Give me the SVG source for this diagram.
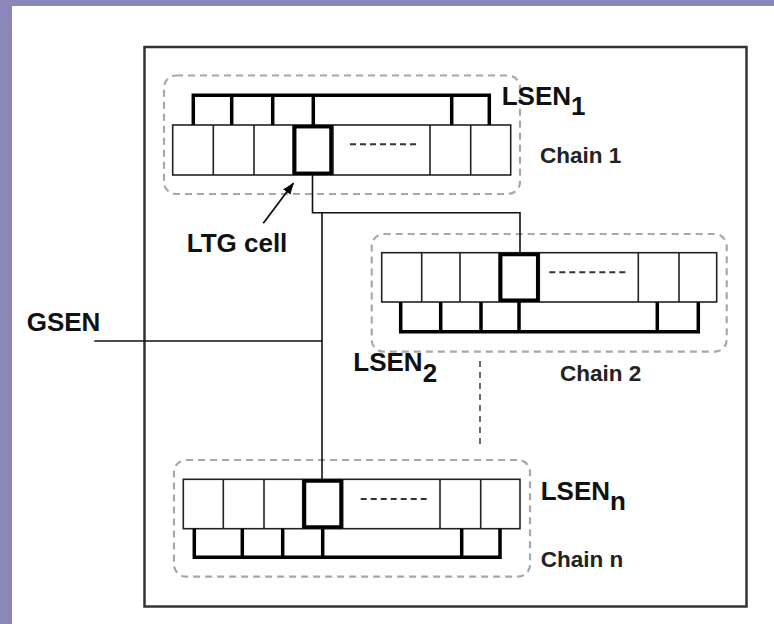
<svg xmlns="http://www.w3.org/2000/svg" width="774" height="624" viewBox="0 0 774 624">
  <style>
    .cell { fill: none; stroke: #222; stroke-width: 1.6; }
    .bold { fill: none; stroke: #000; stroke-width: 3.5; }
    .brk { fill: none; stroke: #000; stroke-width: 3.5; }
    .dots { stroke: #333; stroke-width: 2; stroke-dasharray: 6 4; }
    .group { fill: none; stroke: #a8a8a8; stroke-width: 2.2; stroke-dasharray: 7 5; }
    .wire { fill: none; stroke: #111; stroke-width: 1.6; }
    .lbl { font-family: "Liberation Sans", Arial, sans-serif; font-weight: bold; font-size: 26px; fill: #111; }
    .sub { font-size: 26px; }
    .chain { font-family: "Liberation Sans", Arial, sans-serif; font-weight: bold; font-size: 22.5px; fill: #222; }
  </style>
  <defs>
    <marker id="ah" markerWidth="12" markerHeight="9" refX="11" refY="4.5" orient="auto" markerUnits="userSpaceOnUse">
      <path d="M0,0 L12,4.5 L0,9 Z" fill="#000"/>
    </marker>
  </defs>

  <rect x="0" y="0" width="774" height="624" fill="#8a88b8"/>
  <rect x="12" y="6" width="762" height="618" fill="#ffffff"/>
  <rect id="frame" x="144.5" y="47" width="602" height="559.5" fill="none" stroke="#333" stroke-width="2.5"/>

  <g id="chain1">
    <rect class="group" x="164" y="75.5" width="356" height="118.5" rx="12"/>
    <rect class="cell" x="172.7" y="125" width="338" height="50"/>
    <path class="cell" d="M213.3,125V175M254,125V175M293,125V175M333,125V175M430,125V175M470.7,125V175"/>
    <rect class="bold" x="294.7" y="126.7" width="36.3" height="46.6"/>
    <line class="dots" x1="350" y1="144.3" x2="419" y2="144.3"/>
    <path class="brk" d="M193.3,125V95.3H489.3V125M231.7,95.3V125M272.7,95.3V125M313.3,95.3V125M451.7,95.3V125"/>
  </g>

  <g id="chain2">
    <rect class="group" x="371.7" y="234" width="355" height="117.7" rx="12"/>
    <rect class="cell" x="381.7" y="252.7" width="335" height="49.3"/>
    <path class="cell" d="M421.7,252.7V302M460,252.7V302M499,252.7V302M539.3,252.7V302M638.3,252.7V302M679,252.7V302"/>
    <rect class="bold" x="500.7" y="254.5" width="37" height="45.7"/>
    <line class="dots" x1="549.3" y1="272.3" x2="627.3" y2="272.3"/>
    <path class="brk" d="M400.7,302V331.7H698.3V302M440.7,302V331.7M481,302V331.7M519,302V331.7M657.3,302V331.7"/>
  </g>

  <g id="chainN">
    <rect class="group" x="174" y="460" width="356" height="116.7" rx="12"/>
    <rect class="cell" x="183.3" y="479.3" width="336.7" height="49.4"/>
    <path class="cell" d="M223.3,479.3V528.7M264,479.3V528.7M302.7,479.3V528.7M342.7,479.3V528.7M440,479.3V528.7M480.7,479.3V528.7"/>
    <rect class="bold" x="304.5" y="481" width="36.5" height="46"/>
    <line class="dots" x1="360.7" y1="499" x2="426.7" y2="499"/>
    <path class="brk" d="M194.3,528.7V557.3H500V528.7M242.3,528.7V557.3M282.7,528.7V557.3M322.7,528.7V557.3M461.7,528.7V557.3"/>
  </g>

  <g id="connectors">
    <path class="wire" d="M312.5,173V212.7H520V252.7"/>
    <path class="wire" d="M322,212.7V479.3"/>
    <path class="wire" d="M94.3,341H322"/>
    <path d="M480,361V447" fill="none" stroke="#444" stroke-width="1.6" stroke-dasharray="6 5"/>
    <line x1="263.3" y1="223.3" x2="293.3" y2="183.3" stroke="#111" stroke-width="1.8" marker-end="url(#ah)"/>
  </g>

  <g id="labels">
    <text class="lbl" x="26.7" y="330.7">GSEN</text>
    <text class="lbl" x="186.7" y="251.7">LTG cell</text>
    <text class="lbl" x="501.7" y="105">LSEN<tspan class="sub" dx="0" dy="10">1</tspan></text>
    <text class="chain" x="540" y="162.7">Chain 1</text>
    <text class="lbl" x="353.3" y="370.7">LSEN<tspan class="sub" dx="0" dy="11">2</tspan></text>
    <text class="chain" x="560" y="380.7">Chain 2</text>
    <text class="lbl" x="540.7" y="500">LSEN<tspan class="sub" dx="0" dy="10">n</tspan></text>
    <text class="chain" x="540.7" y="567.3">Chain n</text>
  </g>
</svg>
